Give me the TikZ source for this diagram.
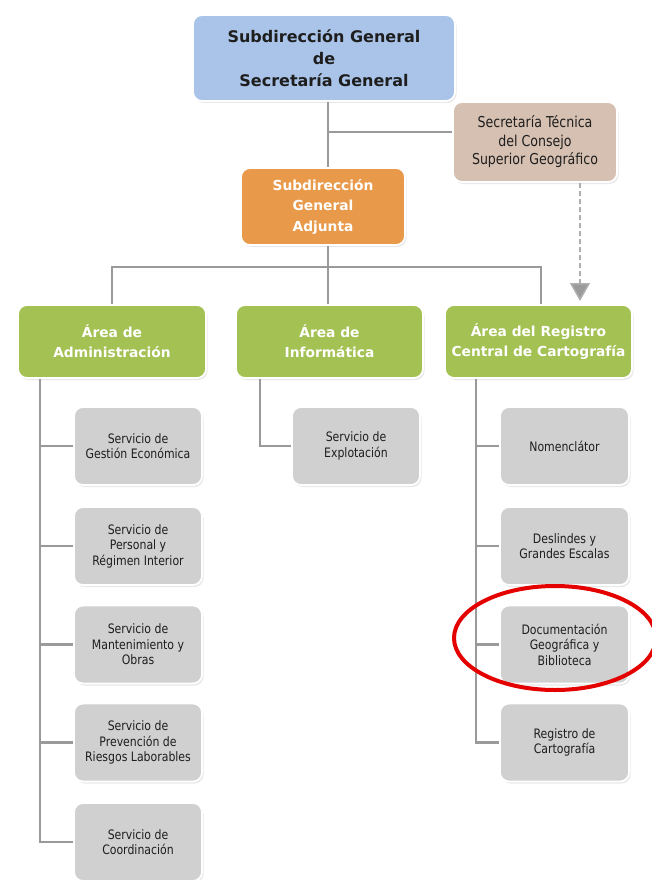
\documentclass[tikz,border=0pt]{standalone}
\usepackage{fontspec}
\setmainfont{DejaVu Sans}
\newfontfamily\headfont{DejaVu Sans}
\newfontfamily\svcfont{DejaVu Sans}[FakeStretch=0.84]
\usetikzlibrary{arrows.meta,shadows}
\definecolor{boxblue}{HTML}{A9C4E8}
\definecolor{boxtan}{HTML}{D6C0B1}
\definecolor{boxorange}{HTML}{E8994A}
\definecolor{boxgreen}{HTML}{A4C153}
\definecolor{boxgray}{HTML}{D0D0D0}
\definecolor{linegray}{HTML}{9A9A9A}
\definecolor{txt}{HTML}{1E1E1E}
\tikzset{
  orgbox/.style={rectangle, rounded corners=9pt, draw=white, line width=1.8pt,
    inner sep=0pt, align=center, text=txt,
    drop shadow={opacity=0.18, shadow xshift=1.5pt, shadow yshift=-2pt}},
  topbox/.style={orgbox, fill=boxblue, minimum width=262pt, minimum height=86pt,
    font=\headfont\bfseries\fontsize{16}{22}\selectfont},
  secbox/.style={orgbox, fill=boxtan, minimum width=164pt, minimum height=80pt,
    font=\svcfont\fontsize{15}{18.5}\selectfont},
  adjbox/.style={orgbox, fill=boxorange, minimum width=164pt, minimum height=77pt,
    text=white, font=\headfont\bfseries\fontsize{13.8}{20.5}\selectfont},
  areabox/.style={orgbox, fill=boxgreen, minimum width=187pt, minimum height=73pt,
    text=white, font=\headfont\bfseries\fontsize{13.8}{20}\selectfont},
  svcbox/.style={orgbox, fill=boxgray, minimum width=128pt, minimum height=78pt,
    font=\svcfont\fontsize{13}{15.5}\selectfont},
  link/.style={draw=linegray, line width=2.8pt},
  dotlink/.style={draw=linegray!80, line width=1.6pt, dash pattern=on 5pt off 3pt,
    -{Triangle[length=18pt, width=20pt, fill=linegray]}},
}
\begin{document}
\begin{tikzpicture}[x=1pt, y=-1pt]
\useasboundingbox (0,0) rectangle (652,880);
\fill[white] (0,0) rectangle (652,880);

% line anchors
\coordinate (trunk) at (328,0);
\coordinate (sidey) at (0,132);
\coordinate (busy) at (0,267);
\coordinate (busL) at (112,267);
\coordinate (busR) at (541,267);
\coordinate (dash) at (580,0);
\coordinate (lv) at (40,0);
\coordinate (mv) at (260,0);
\coordinate (rv) at (476,0);

% connectors (drawn first, boxes cover their ends)
\draw[link] (324,100) coordinate (topfoot) -- (topfoot -| trunk) -- (trunk |- 0,170) coordinate (adjhead);
\draw[link] (trunk |- sidey) -- (455,132) coordinate (sechead);
\draw[link] (trunk |- 0,244) coordinate (adjfoot) -- (trunk |- busy);
\draw[link] (112,307) coordinate (a1head) -- (busL) -- (busR) -- (541,307) coordinate (a3head);
\draw[link] (trunk |- busy) -- (trunk |- 0,307) coordinate (a2head);

% boxes
\node[topbox] (top) at (324,58) {Subdirección General\\de\\Secretaría General};
\node[secbox] (sec) at (535,142) {Secretaría Técnica\\del Consejo\\Superior Geográfico};
\node[adjbox] (adj) at (323,206.5) {Subdirección\\General\\Adjunta};

\node[areabox, minimum width=188pt] (a1) at (112,341.5) {Área de\\Administración};
\node[areabox] (a2) at (329.5,341.5) {Área de\\Informática};
\node[areabox] (a3) at (538.5,341.5) {Área del Registro\\Central de Cartografía};

% services of each area
\node[svcbox] (l1) at (138,446) {Servicio de\\Gestión Económica};
\node[svcbox] (l2) at (138,546) {Servicio de\\Personal y\\Régimen Interior};
\node[svcbox] (l3) at (138,644.5) {Servicio de\\Mantenimiento y\\Obras};
\node[svcbox] (l4) at (138,742.5) {Servicio de\\Prevención de\\Riesgos Laborables};
\node[svcbox] (l5) at (138,842) {Servicio de\\Coordinación};

\node[svcbox] (m1) at (356,446) {Servicio de\\Explotación};

\node[svcbox, minimum width=129pt] (r1) at (564.5,446) {Nomenclátor};
\node[svcbox, minimum width=129pt] (r2) at (564.5,546) {Deslindes y\\Grandes Escalas};
\node[svcbox, minimum width=129pt] (r3) at (564.5,644.5) {Documentación\\Geográfica y\\Biblioteca};
\node[svcbox, minimum width=129pt] (r4) at (564.5,742.5) {Registro de\\Cartografía};

% area trees
\draw[link] (a1.south -| lv) |- (l5.west);
\foreach \s in {l1,l2,l3,l4} \draw[link] (lv |- \s.west) -- (\s.west);
\draw[link] (a2.south -| mv) |- (m1.west);
\draw[link] (a3.south -| rv) |- (r4.west);
\foreach \s in {r1,r2,r3} \draw[link] (rv |- \s.west) -- (\s.west);

% dependency of the technical secretariat
\draw[dotlink] (sec.south -| dash) -- (dash |- 0,301);

% highlight
\draw[red!90!black, line width=4pt] (555,638) ellipse [x radius=101pt, y radius=52pt];
\end{tikzpicture}
\end{document}
